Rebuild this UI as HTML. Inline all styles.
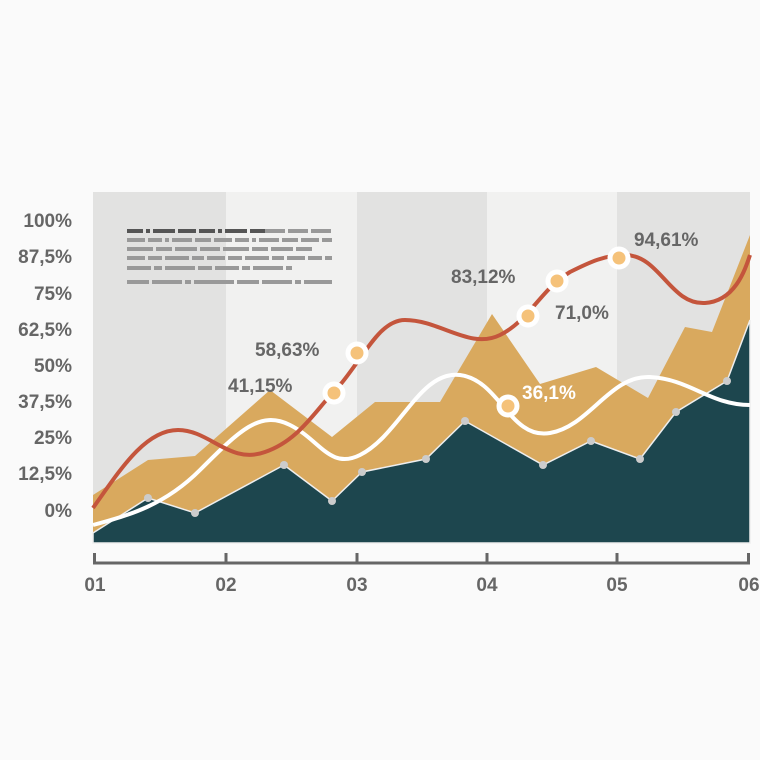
<!DOCTYPE html>
<html><head><meta charset="utf-8"><style>
body{margin:0;background:#fafafa}
svg{display:block}
text{font-family:"Liberation Sans",sans-serif;font-weight:bold}
</style></head><body>
<svg width="760" height="760" viewBox="0 0 760 760">
<rect width="760" height="760" fill="#fafafa"/>
<rect x="93" y="192" width="133" height="351" fill="#e2e2e1"/>
<rect x="226" y="192" width="131" height="351" fill="#f1f1f0"/>
<rect x="357" y="192" width="130" height="351" fill="#e2e2e1"/>
<rect x="487" y="192" width="130" height="351" fill="#f1f1f0"/>
<rect x="617" y="192" width="133" height="351" fill="#e2e2e1"/>
<g stroke-width="4">
<line x1="127" y1="231" x2="265" y2="231" stroke="#555" stroke-dasharray="16,3,4,3,22,3,18,3"/>
<line x1="265" y1="231" x2="332" y2="231" stroke="#999" stroke-dasharray="20,3"/>
<g stroke="#999">
<line x1="127" y1="240" x2="332" y2="240" stroke-dasharray="18,3,14,3,4,3,20,3,16,3"/>
<line x1="127" y1="249" x2="312" y2="249" stroke-dasharray="26,3,16,3,22,3,20,3"/>
<line x1="127" y1="258" x2="332" y2="258" stroke-dasharray="18,3,14,3,24,3,12,3"/>
<line x1="127" y1="268" x2="292" y2="268" stroke-dasharray="24,3,8,3,30,3,14,3"/>
<line x1="127" y1="282" x2="332" y2="282" stroke-dasharray="22,3,30,3,6,3,40,3"/>
</g></g>
<polygon fill="#d9a95e" points="93,495 148,460 195,456 270,390 332,437 375,402 440,402 492,314 540,384 596,367 648,398 685,327 712,332 750,235 750,320 727,381 676,412 640,459 591,441 543,465 465,421 426,459 362,472 332,501 284,465 195,513 148,498 93,533"/>
<polygon fill="#1d464e" stroke="#eee" stroke-width="1.5" points="93,533 148,498 195,513 284,465 332,501 362,472 426,459 465,421 543,465 591,441 640,459 676,412 727,381 750,320 750,543 93,543"/>
<g fill="#ccc"><circle cx="148" cy="498" r="4"/><circle cx="195" cy="513" r="4"/><circle cx="284" cy="465" r="4"/><circle cx="332" cy="501" r="4"/><circle cx="362" cy="472" r="4"/><circle cx="426" cy="459" r="4"/><circle cx="465" cy="421" r="4"/><circle cx="543" cy="465" r="4"/><circle cx="591" cy="441" r="4"/><circle cx="640" cy="459" r="4"/><circle cx="676" cy="412" r="4"/><circle cx="727" cy="381" r="4"/></g>
<path d="M93,525 C130,515 165,505 200,470 C240,430 260,410 290,425 C320,440 330,470 360,455 C400,435 420,370 460,375 C500,380 510,440 550,433 C590,426 610,375 650,377 C690,379 710,405 750,405" fill="none" stroke="#fff" stroke-width="4"/>
<path d="M93,508 C120,470 145,430 178,430 C210,430 230,465 265,452 C300,440 315,410 340,385 C365,355 380,320 405,320 C440,320 470,350 500,335 C530,320 540,290 570,272 C590,262 605,255 625,255 C660,255 670,305 705,303 C735,301 745,270 750,255" fill="none" stroke="#c4553c" stroke-width="4"/>
<g fill="#f5c27a" stroke="#fff" stroke-width="5">
<circle cx="334" cy="393" r="9"/><circle cx="357" cy="353" r="9"/><circle cx="528" cy="316" r="9"/><circle cx="557" cy="281" r="9"/><circle cx="619" cy="258" r="9"/><circle cx="508" cy="406" r="9"/></g>
<g font-size="19" fill="#666">
<text x="228" y="392">41,15%</text><text x="255" y="356">58,63%</text><text x="451" y="283">83,12%</text><text x="555" y="319">71,0%</text><text x="634" y="246">94,61%</text>
<text x="522" y="399" fill="#fff">36,1%</text>
</g>
<g font-size="19" fill="#666" text-anchor="end">
<text x="72" y="227">100%</text><text x="72" y="263">87,5%</text><text x="72" y="300">75%</text><text x="72" y="336">62,5%</text><text x="72" y="372">50%</text><text x="72" y="408">37,5%</text><text x="72" y="444">25%</text><text x="72" y="480">12,5%</text><text x="72" y="517">0%</text>
</g>
<g stroke="#666" stroke-width="3"><line x1="93" y1="563" x2="750" y2="563"/>
<line x1="94.5" y1="553" x2="94.5" y2="564"/><line x1="226" y1="553" x2="226" y2="564"/><line x1="357" y1="553" x2="357" y2="564"/><line x1="487" y1="553" x2="487" y2="564"/><line x1="617" y1="553" x2="617" y2="564"/><line x1="748.5" y1="553" x2="748.5" y2="564"/></g>
<g font-size="19" fill="#666" text-anchor="middle">
<text x="95" y="591">01</text><text x="226" y="591">02</text><text x="357" y="591">03</text><text x="487" y="591">04</text><text x="617" y="591">05</text><text x="749" y="591">06</text></g>
</svg></body></html>
